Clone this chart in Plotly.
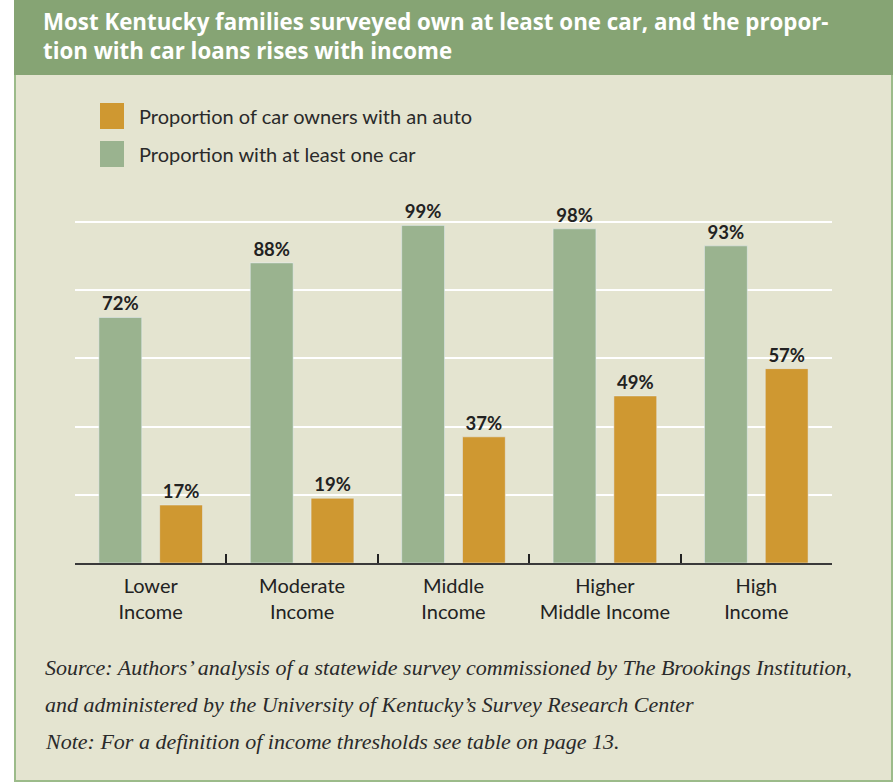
import plotly.graph_objects as go

categories = ["Lower<br>Income", "Moderate<br>Income", "Middle<br>Income",
              "Higher<br>Middle Income", "High<br>Income"]
at_least_one_car = [72, 88, 99, 98, 93]
car_loan = [17, 19, 37, 49, 57]
series_names = ["Proportion of car owners with an auto", "Proportion with at least one car"]

title_lines = ["Most Kentucky families surveyed own at least one car, and the propor-",
               "tion with car loans rises with income"]
footer_lines = ["Source: Authors\u2019 analysis of a statewide survey commissioned by The Brookings Institution,",
                "and administered by the University of Kentucky\u2019s Survey Research Center",
                "Note: For a definition of income thresholds see table on page 13."]

GREEN = "#9ab38f"
ORANGE = "#cf9831"
HEADER = "#86a474"
BG = "#e4e4d0"
SANS = "Lato, 'Open Sans', sans-serif"
TITLE_FONT = "'Open Sans', Lato, sans-serif"
SERIF = "'Liberation Serif', 'DejaVu Serif', serif"

W, H = 893, 782
L, R = 75, 832          # plot area x pixels
T, B = 200, 563         # plot area y pixels
PPU = 3.41              # pixels per percent
ymax = (B - T) / PPU

def px(x):
    return (x - L) / (R - L)

def py(y):
    return (B - y) / (B - T)

xs = list(range(len(categories)))

fig = go.Figure()
fig.add_trace(go.Bar(x=xs, y=at_least_one_car, name=series_names[1], marker_color=GREEN,
                     text=[f"<b>{v}%</b>" for v in at_least_one_car], textposition="outside",
                     textfont=dict(family=SANS, size=18.5, color="#222"),
                     cliponaxis=False, showlegend=False))
fig.add_trace(go.Bar(x=xs, y=car_loan, name=series_names[0], marker_color=ORANGE,
                     text=[f"<b>{v}%</b>" for v in car_loan], textposition="outside",
                     textfont=dict(family=SANS, size=18.5, color="#222"),
                     cliponaxis=False, showlegend=False))

shapes = []
# panel background with border
shapes.append(dict(type="rect", xref="paper", yref="paper", x0=px(15), x1=px(892), y0=py(781), y1=py(0),
                   fillcolor=BG, line=dict(color="#9cbb8a", width=2), layer="below"))
# header band
shapes.append(dict(type="rect", xref="paper", yref="paper", x0=px(14), x1=px(893), y0=py(75), y1=py(0),
                   fillcolor=HEADER, line=dict(width=0), layer="below"))
# legend swatches
legend_colors = [ORANGE, GREEN]
legend_y = [116, 154]
for c, yc in zip(legend_colors, legend_y):
    shapes.append(dict(type="rect", xref="paper", yref="paper", x0=px(100), x1=px(124),
                       y0=py(yc + 13), y1=py(yc - 13), fillcolor=c, line=dict(width=0)))

annotations = []
for name, yc in zip(series_names, legend_y):
    annotations.append(dict(text=name, xref="paper", yref="paper", x=px(137), y=py(yc),
                            xanchor="left", yanchor="middle", showarrow=False,
                            font=dict(family=SANS, size=20, color="#2a2a2a")))
for line, yc in zip(title_lines, [22, 50]):
    annotations.append(dict(text=f"<b>{line}</b>", xref="paper", yref="paper", x=px(41), y=py(yc),
                            xanchor="left", yanchor="middle", showarrow=False,
                            font=dict(family=TITLE_FONT, size=22.3, color="white")))
for line, yc in zip(footer_lines, [667, 704, 741]):
    annotations.append(dict(text=f"<i>{line}</i>", xref="paper", yref="paper", x=px(43), y=py(yc),
                            xanchor="left", yanchor="middle", showarrow=False,
                            font=dict(family=SERIF, size=22, color="#2a2a2a")))

fig.update_layout(
    width=W, height=H,
    margin=dict(l=L, r=W - R, t=T, b=H - B, pad=0),
    paper_bgcolor="white", plot_bgcolor="rgba(0,0,0,0)",
    barmode="group", bargap=0.197, bargroupgap=0.295,
    shapes=shapes, annotations=annotations,
    showlegend=False,
    xaxis=dict(range=[-0.5, len(categories) - 0.5], tickvals=xs, ticktext=categories,
               ticks="", showgrid=False, zeroline=False,
               showline=True, linecolor="#3a3a3a", linewidth=2, ticklabelstandoff=4,
               tickfont=dict(family=SANS, size=20, color="#222"),
               minor=dict(tickvals=[i + 0.5 for i in xs[:-1]], ticks="inside", ticklen=9,
                          tickcolor="#222", tickwidth=1.5, showgrid=False)),
    yaxis=dict(range=[0, ymax], tickvals=[20, 40, 60, 80, 100], showticklabels=False,
               showgrid=True, gridcolor="white", gridwidth=2, zeroline=False, ticks=""),
)

fig.write_html("out.html")
